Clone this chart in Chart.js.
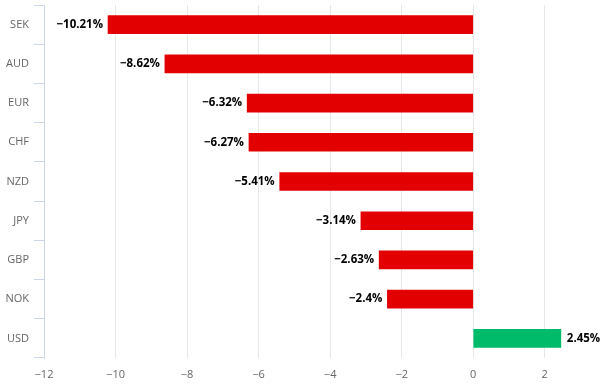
<!DOCTYPE html>
<html>
<head>
<meta charset="UTF-8">
<title>Currency performance</title>
<script src="https://cdn.jsdelivr.net/npm/chart.js"></script>
<style>
  html, body { margin: 0; padding: 0; background: #fff; }
  #wrap { width: 608px; height: 385px; }
</style>
</head>
<body>
<div id="wrap"><canvas id="fxChart"></canvas></div>
<script>
  const currencies = ['SEK', 'AUD', 'EUR', 'CHF', 'NZD', 'JPY', 'GBP', 'NOK', 'USD'];
  const changes = [-10.21, -8.62, -6.32, -6.27, -5.41, -3.14, -2.63, -2.4, 2.45];
  const xTicks = [-12, -10, -8, -6, -4, -2, 0, 2];

  const FONT = '"Open Sans", "DejaVu Sans", sans-serif';
  const minus = s => String(s).replace('-', '\u2212');

  // value labels next to each bar
  const barLabels = {
    id: 'barLabels',
    afterDatasetsDraw(chart) {
      const ctx = chart.ctx;
      const meta = chart.getDatasetMeta(0);
      ctx.save();
      ctx.font = 'bold 11.5px ' + FONT;
      ctx.fillStyle = '#000';
      ctx.textBaseline = 'middle';
      meta.data.forEach((bar, i) => {
        const v = changes[i];
        const txt = minus(v) + '%';
        if (v < 0) {
          ctx.textAlign = 'right';
          ctx.fillText(txt, bar.x - 5, bar.y);
        } else {
          ctx.textAlign = 'left';
          ctx.fillText(txt, bar.x + 6, bar.y);
        }
      });
      ctx.restore();
    }
  };

  new Chart(document.getElementById('fxChart'), {
    type: 'bar',
    data: {
      labels: currencies,
      datasets: [{
        data: changes,
        backgroundColor: changes.map(v => v < 0 ? '#e30000' : '#00bb6a'),
        barThickness: 18,
        borderWidth: 0
      }]
    },
    options: {
      indexAxis: 'y',
      responsive: true,
      maintainAspectRatio: false,
      animation: false,
      layout: { padding: { top: 0, right: 6 } },
      plugins: { legend: { display: false }, tooltip: { enabled: false } },
      scales: {
        x: {
          min: -12,
          max: 3.6,
          afterBuildTicks: s => { s.ticks = xTicks.map(v => ({ value: v })); },
          afterFit: s => { s.height = 27; },
          grid: { color: '#e6e6e6', drawTicks: false },
          border: { display: false },
          ticks: {
            padding: 10,
            color: '#666',
            font: { family: FONT, size: 11 },
            callback: v => minus(v)
          }
        },
        y: {
          afterFit: s => { s.width = 44; s.paddingTop = 5; s.paddingBottom = 0; },
          grid: { drawOnChartArea: false, color: '#ccd6eb', tickLength: 10, offset: true },
          border: { color: '#ccd6eb' },
          ticks: {
            padding: 5,
            color: '#666',
            font: { family: FONT, size: 11 }
          }
        }
      }
    },
    plugins: [barLabels]
  });
</script>
</body>
</html>
